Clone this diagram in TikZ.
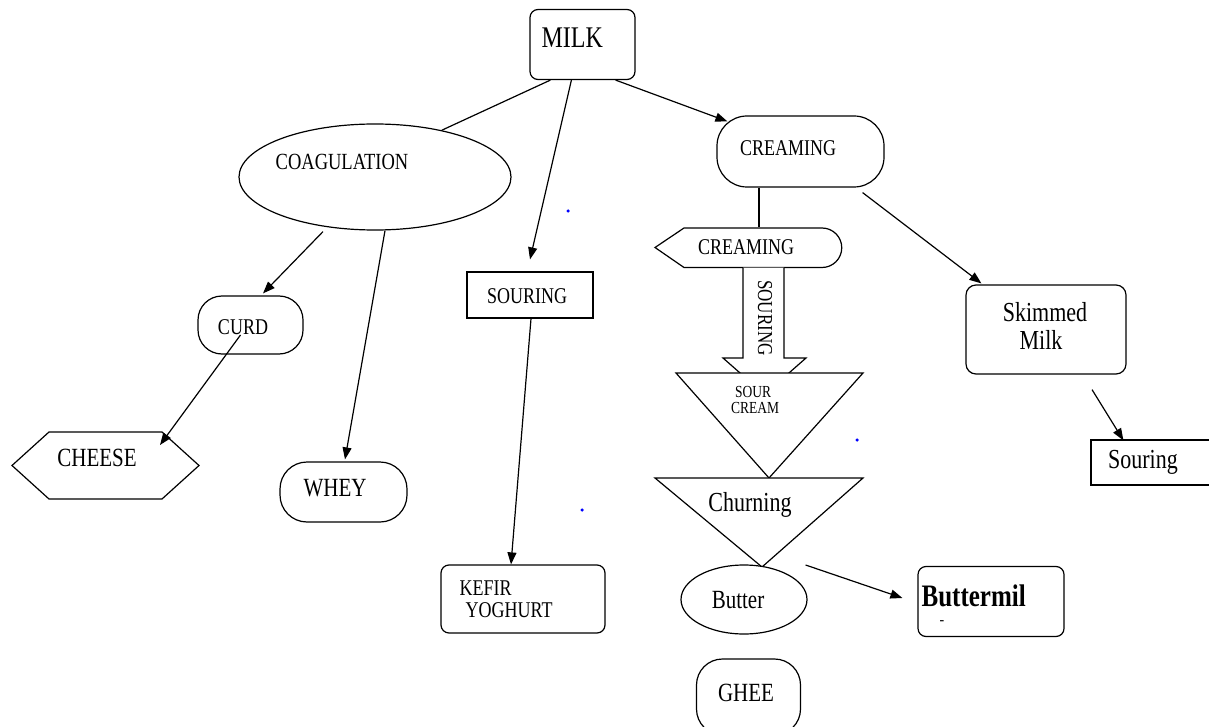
\documentclass[tikz,border=0pt]{standalone}
\usepackage{fontspec}
\usepackage{graphicx}
\setmainfont{Liberation Serif}
\usetikzlibrary{shapes.geometric,arrows.meta,calc}
\newcommand{\myfs}[1]{\fontsize{#1}{#1}\selectfont}
\newcommand{\vs}[1]{\scalebox{1}[1.25]{#1}}
\begin{document}
\begin{tikzpicture}[x=1pt,y=-1pt,line width=1.2pt,
  arr/.style={-{Triangle[length=12pt,width=9pt]}},
  rbox/.style={draw,rectangle,rounded corners=#1,inner sep=0pt,fill=white},
  rbox/.default=8pt,
  sbox/.style={draw,rectangle,inner sep=0pt,fill=white},
  ebox/.style={draw,ellipse,inner sep=0pt,fill=white},
  lbl/.style={inner sep=0pt,font=\myfs{#1}},
  lbl/.default=18,
  dot/.style={fill=blue,circle,inner sep=0pt,minimum size=3.5pt}]
\useasboundingbox (0,0) rectangle (1209,727);
\fill[white] (0,0) rectangle (1209,727);

% ---------- shapes ----------
\node[rbox, minimum width=105pt, minimum height=70pt] (milk) at (582.5,44.5) {};
\node[lbl=24, anchor=west] (milkt) at (541,38) {\vs{MILK}};

\node[ebox, minimum width=272pt, minimum height=106pt] (coag) at (375,177) {};
\node[lbl=18.5] (coagt) at (342,162) {\vs{COAGULATION}};

\node[rbox=30pt, minimum width=167pt, minimum height=71pt] (cr1) at (800.5,151.5) {};
\node[lbl] (cr1t) at (788,148) {\vs{CREAMING}};

% second CREAMING shape (pointed left, rounded right)
\draw[fill=white] (655,247.5) -- (684,228) -- (822,228)
   arc[start angle=-90,end angle=90,radius=19.75] -- (684,267.5) -- cycle;
\node[lbl] (cr2) at (746,247) {\vs{CREAMING}};

% block arrow SOURING
\draw[fill=white] (743,267.5) -- (743,358) -- (723,358) -- (764.5,394.5)
   -- (806,358) -- (784,358) -- (784,267.5);
\node[lbl=17, rotate=-90] (souringv) at (765,318) {\vs{SOURING}};

% SOUR CREAM triangle
\draw[fill=white] (676,373) -- (863,373) -- (769,478) -- cycle;
\node[lbl=13.5] (sourt) at (753,392) {\vs{SOUR}};
\node[lbl=13.5] (creamt) at (755,408) {\vs{CREAM}};

% Churning triangle
\draw[fill=white] (655,478) -- (863,478) -- (762,567) -- cycle;
\node[lbl=22] (churn) at (750,505) {\vs{Churning}};

\node[ebox, minimum width=126pt, minimum height=69pt] (butter) at (744,599.5) {};
\node[lbl=21] (buttert) at (738,600) {\vs{Butter}};

\node[rbox=26pt, minimum width=104pt, minimum height=76pt] (ghee) at (748.5,697) {};
\node[lbl=21] (gheet) at (746,693) {\vs{GHEE}};

\node[rbox, minimum width=146pt, minimum height=70pt] (bm) at (991,601.5) {};
\node[lbl=25, anchor=west] (bmt) at (921,596) {\bfseries\vs{Buttermil}};
\node[lbl=14] (bmd) at (942,623) {\bfseries -};

\node[rbox=10pt, minimum width=160pt, minimum height=89pt] (skim) at (1046,329.5) {};
\node[lbl=22] (skimt1) at (1045,312) {\vs{Skimmed}};
\node[lbl=22] (skimt2) at (1041,340) {\vs{Milk}};

\node[sbox, minimum width=130pt, minimum height=45pt] (sr2) at (1156,462.5) {};
\node[lbl=22] (sr2t) at (1143,462) {\vs{Souring}};

\node[sbox, minimum width=126pt, minimum height=46pt] (sour) at (530,295) {};
\node[lbl] (sourtxt) at (527,296) {\vs{SOURING}};

\node[rbox, minimum width=164pt, minimum height=68pt] (kefir) at (523,599) {};
\node[lbl, anchor=west] (kefirt1) at (459,588) {\vs{KEFIR}};
\node[lbl, anchor=west] (kefirt2) at (465,610) {\vs{YOGHURT}};

\node[rbox=24pt, minimum width=105pt, minimum height=58pt] (curd) at (250.5,325) {};
\node[lbl] (curdt) at (243,327) {\vs{CURD}};

\draw[fill=white] (12,465.5) -- (49,432) -- (162,432) -- (199,465.5) -- (162,499) -- (49,499) -- cycle;
\node[lbl=21] (cheese) at (97,458) {\vs{CHEESE}};

\node[rbox=27pt, minimum width=127pt, minimum height=60pt] (whey) at (343.5,492) {};
\node[lbl=21] (wheyt) at (335,488) {\vs{WHEY}};

% stray dots
\node[dot] (d1) at (568,211) {};
\node[dot] (d2) at (857,440) {};
\node[dot] (d3) at (582,510) {};

% ---------- connectors ----------
\draw ($(milk.south west)+(21,0)$) -- (coag.35);
\draw[arr] ($(milk.south west)+(42,0)$) -- ($(sour.north)+(0,-12)$);
\draw[arr] ($(milk.south east)+(-20,0)$) -- ($(cr1.north west)+(11,6)$);
\draw ($(cr1.south)+(-41.5,0)$) -- ($(cr2)+(13,-19.5)$);
\draw[arr] ($(cr1.south east)+(-22,5)$) -- ($(skim.north west)+(16,-1)$);
\draw[arr] ($(skim.south)+(46,15)$) -- ($(sr2.north west)+(33,1)$);
\draw[arr] ($(sour.south)+(1,0)$) -- ($(kefir.north)+(-12,0)$);
\draw[arr] ($(coag.south)+(-52,1)$) -- ($(curd.north)+(12.5,-2)$);
\draw[arr] ($(curd.center)+(-10,10)$) -- ($(cheese)+(63,-13)$);
\draw[arr] ($(coag.south)+(10,0)$) -- ($(whey.north)+(1.5,-2)$);
\draw[arr] ($(butter.east)+(-2,-34.5)$) -- ($(bm.west)+(-15,-3.5)$);
\end{tikzpicture}
\end{document}
